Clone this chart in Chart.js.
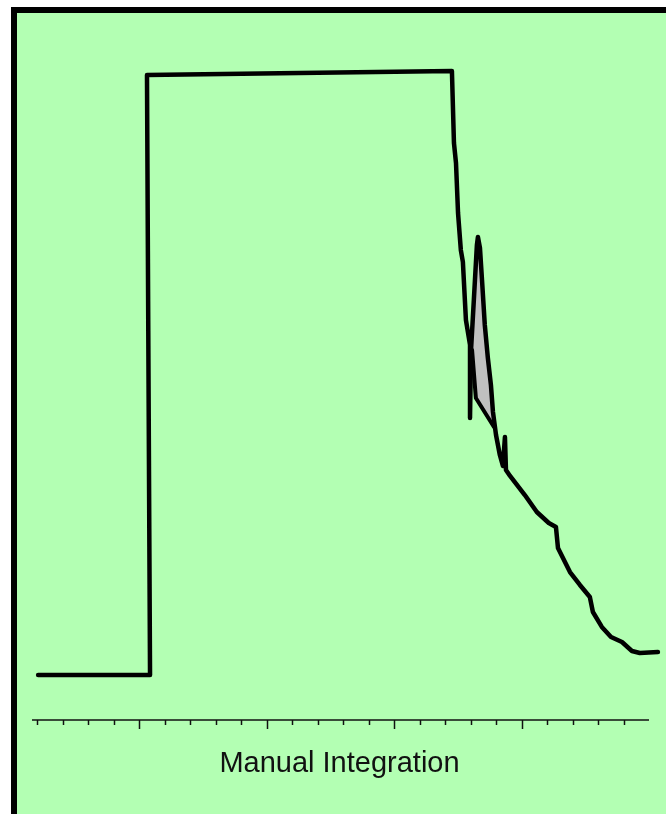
<!DOCTYPE html>
<html>
<head>
<meta charset="utf-8">
<script src="https://cdn.jsdelivr.net/npm/chart.js@4"></script>
<style>
  html, body { margin: 0; padding: 0; background: #fff; }
  body { width: 666px; height: 814px; position: relative; overflow: hidden; }
  #frame {
    position: absolute; left: 11px; top: 7px; right: 0; bottom: 0;
    background: rgb(179, 255, 179);
    border-left: 6px solid #000; border-top: 6px solid #000;
  }
  #chart { position: absolute; left: 0; top: 0; }
</style>
</head>
<body>
<div id="frame"></div>
<canvas id="chart" width="666" height="814"></canvas>
<script>
// trace (x = time, y = signal, arbitrary units)
const traceX = [1.04, 5.43, 5.31, 8.29, 11.27, 14.29, 17.27, 17.35, 17.43, 17.51, 17.62, 17.70, 17.82, 17.98,
  17.98, 18.02, 18.13, 18.25, 18.29, 18.37, 18.45, 18.56, 18.68, 18.80, 18.88, 19.00, 19.15, 19.27, 19.35, 19.39,
  19.55, 20.13, 20.60, 21.07, 21.35, 21.43, 21.90, 22.29, 22.68, 22.80, 23.15, 23.51, 23.94, 24.33, 24.64, 25.35];
const traceY = [6.43, 6.43, 92.14, 92.29, 92.43, 92.57, 92.71, 82.43, 79.57, 72.43, 67.14, 65.43, 57.14, 53.57,
  43.14, 52.86, 60.0, 67.86, 69.0, 67.43, 62.86, 56.43, 51.71, 47.86, 44.0, 40.71, 37.86, 36.29, 40.43, 35.71,
  34.86, 32.14, 29.71, 28.14, 27.57, 24.57, 21.14, 19.29, 17.57, 15.43, 13.29, 11.86, 11.14, 9.86, 9.57, 9.71];

// integrated peak (grey) and its drawn baseline
const peakX = [18.06, 18.13, 18.25, 18.29, 18.37, 18.45, 18.56, 18.68, 18.80, 18.92];
const peakY = [52.86, 60.0, 67.86, 69.0, 67.43, 62.86, 56.43, 51.71, 47.86, 41.86];
const chordX = [18.06, 18.21, 18.92];
const chordY = [52.86, 46.0, 41.86];

// axis ticks
const tickValues = [];
for (let i = 1; i <= 24; i++) tickValues.push(i);
const axisMin = 0.8, axisMax = 25;
const axisTitle = "Manual Integration";

const pts = (xs, ys) => xs.map((x, i) => ({ x, y: ys[i] }));

/* x軸（線・目盛・タイトル）を自前で描く */
const axisPlugin = {
  id: 'manualAxis',
  afterDraw(chart) {
    const { ctx, chartArea, scales } = chart;
    const x = scales.x;
    const y0 = chartArea.bottom;
    ctx.save();
    ctx.strokeStyle = '#111';
    ctx.lineWidth = 1.5;
    ctx.beginPath();
    ctx.moveTo(x.getPixelForValue(axisMin), y0);
    ctx.lineTo(x.getPixelForValue(axisMax), y0);
    ctx.stroke();
    tickValues.forEach(v => {
      const px = Math.round(x.getPixelForValue(v)) + 0.5;
      const len = v % 5 === 0 ? 9 : 5;
      ctx.beginPath();
      ctx.moveTo(px, y0);
      ctx.lineTo(px, y0 + len);
      ctx.stroke();
    });
    ctx.fillStyle = '#111';
    ctx.font = '29px "Liberation Sans", Arial, sans-serif';
    ctx.textAlign = 'center';
    ctx.textBaseline = 'alphabetic';
    const mid = (x.getPixelForValue(axisMin) + x.getPixelForValue(axisMax)) / 2;
    ctx.fillText(axisTitle, mid - 1, y0 + 52);
    ctx.restore();
  }
};

new Chart(document.getElementById('chart'), {
  type: 'line',
  data: {
    datasets: [
      {
        label: 'trace', data: pts(traceX, traceY), order: 0,
        borderColor: '#000', borderWidth: 4.5, pointRadius: 0, fill: false,
        borderJoinStyle: 'round', borderCapStyle: 'round', tension: 0
      },
      {
        label: 'peak', data: pts(peakX, peakY), order: 2,
        borderColor: 'rgba(0,0,0,0)', borderWidth: 0, pointRadius: 0,
        backgroundColor: '#c0c0c0', fill: '+1', tension: 0
      },
      {
        label: 'baseline', data: pts(chordX, chordY), order: 1,
        borderColor: '#000', borderWidth: 4, pointRadius: 0, fill: false,
        borderJoinStyle: 'round', borderCapStyle: 'round', tension: 0
      }
    ]
  },
  options: {
    responsive: false,
    animation: false,
    layout: { padding: { left: 32, right: 4, top: 20, bottom: 94 } },
    scales: {
      x: { type: 'linear', min: 0.8, max: 25.51, display: false },
      y: { min: 0, max: 100, display: false }
    },
    plugins: { legend: { display: false }, tooltip: { enabled: false } }
  },
  plugins: [axisPlugin]
});
</script>
</body>
</html>
